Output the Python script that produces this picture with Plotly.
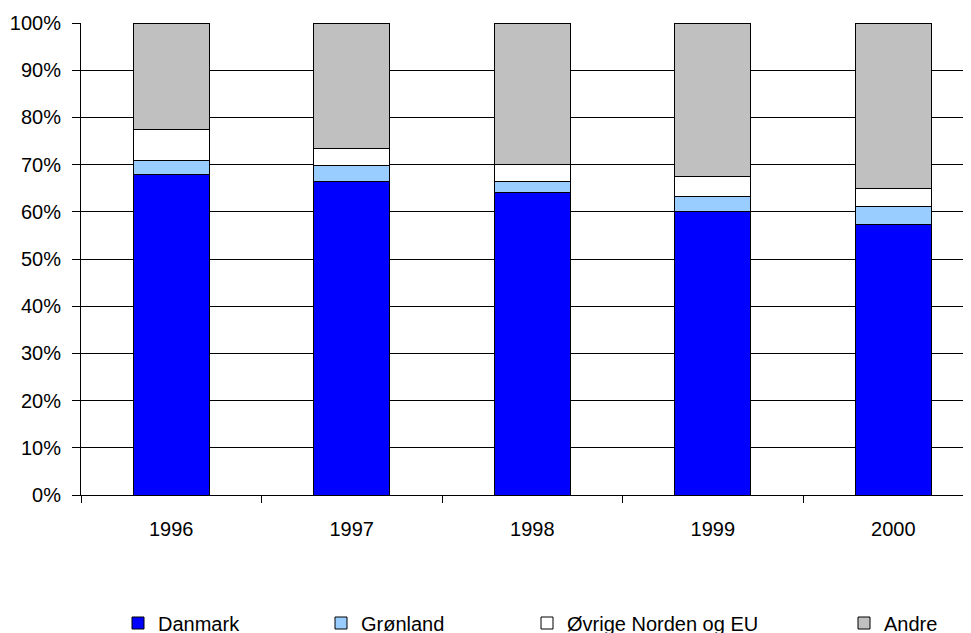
import plotly.graph_objects as go

years = ['1996', '1997', '1998', '1999', '2000']
danmark = [67.8, 66.4, 64.0, 60.1, 57.3]
groenland = [3.0, 3.4, 2.4, 3.1, 3.9]
oevrige = [6.7, 3.6, 3.7, 4.2, 3.8]
andre = [22.5, 26.6, 29.9, 32.6, 35.0]

series = [
    ('Danmark', danmark, '#0000FF', 'legend'),
    ('Grønland', groenland, '#99CCFF', 'legend2'),
    ('Øvrige Norden og EU', oevrige, '#FFFFFF', 'legend3'),
    ('Andre', andre, '#C0C0C0', 'legend4'),
]

fig = go.Figure()
for name, vals, col, leg in series:
    fig.add_trace(go.Bar(x=years, y=vals, name=name, legend=leg,
                         marker=dict(color=col, line=dict(color='black', width=1))))

W, H = 971, 633
legend_x = [110, 313, 519, 836]  # left edges in px
leg_common = dict(xref='container', yref='container', xanchor='left',
                  yanchor='middle', y=1 - 615 / H, bgcolor='rgba(0,0,0,0)',
                  font=dict(size=20, color='black'))
legends = {}
for i, lx in enumerate(legend_x):
    key = 'legend' if i == 0 else 'legend%d' % (i + 1)
    legends[key] = dict(x=lx / W, **leg_common)

fig.update_layout(
    width=W, height=H,
    barmode='stack', bargap=0.58,
    plot_bgcolor='white', paper_bgcolor='white',
    font=dict(family='Arial, Liberation Sans, sans-serif', size=20, color='black'),
    margin=dict(l=73, r=0, t=15, b=146, autoexpand=False),
    showlegend=True,
    **legends,
)
fig.update_xaxes(range=[-0.5, 4.475], tickson='boundaries', ticks='outside',
                 ticklen=7, tickcolor='black', showline=True, linecolor='black',
                 linewidth=1, showgrid=False, ticklabelstandoff=16)
fig.update_yaxes(range=[0, 100], dtick=10, ticksuffix='%', ticks='outside',
                 ticklen=8, tickcolor='black', showline=True, linecolor='black',
                 linewidth=1, showgrid=True, gridcolor='black', gridwidth=1,
                 zeroline=False, ticklabelstandoff=7)

fig.write_html('out.html')
